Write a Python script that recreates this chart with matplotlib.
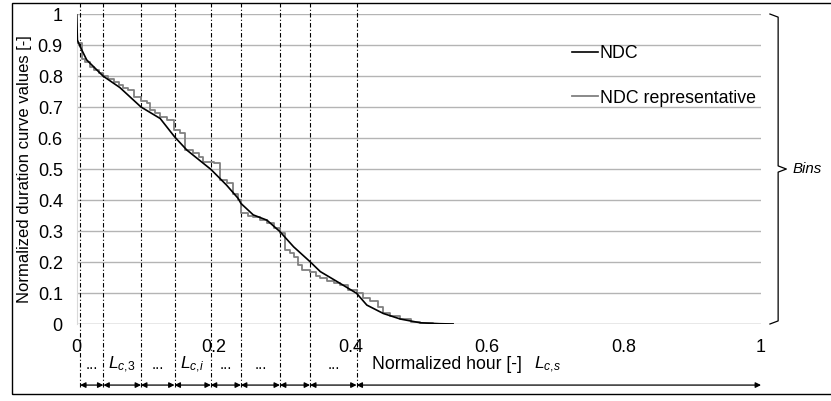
import numpy as np
import matplotlib
matplotlib.use('Agg')
import matplotlib.pyplot as plt
import matplotlib.patches as patches
from matplotlib.transforms import blended_transform_factory

plt.rcParams['font.family'] = ['Liberation Sans', 'DejaVu Sans']
plt.rcParams['mathtext.fontset'] = 'custom'
plt.rcParams['mathtext.it'] = 'Liberation Sans:italic'
plt.rcParams['mathtext.rm'] = 'Liberation Sans'

# NDC (black curve)
ndc_x = [0, 0.001, 0.005, 0.0146, 0.0385, 0.063, 0.094, 0.122, 0.143, 0.161, 0.196,
         0.219, 0.236, 0.24, 0.258, 0.278, 0.297, 0.317, 0.341, 0.356, 0.385, 0.409,
         0.424, 0.448, 0.473, 0.502, 0.53, 0.55]
ndc_y = [1.0, 0.916, 0.895, 0.852, 0.80, 0.763, 0.70, 0.663, 0.604, 0.561, 0.499,
         0.448, 0.405, 0.389, 0.352, 0.335, 0.298, 0.249, 0.201, 0.169, 0.131, 0.099,
         0.061, 0.034, 0.016, 0.004, 0.001, 0.0]

# NDC representative (grey, stepped)
rep_x = [0, 0.008, 0.012, 0.019, 0.025, 0.032, 0.039, 0.046, 0.054, 0.062,
         0.068, 0.075, 0.083, 0.094, 0.102, 0.107, 0.114, 0.122, 0.132, 0.142,
         0.151, 0.158, 0.170, 0.178, 0.185, 0.200, 0.210, 0.219, 0.229, 0.236,
         0.24, 0.25, 0.258, 0.268, 0.278, 0.288, 0.297, 0.305, 0.311, 0.317,
         0.323, 0.329, 0.341, 0.349, 0.356, 0.366, 0.376, 0.385, 0.397, 0.409,
         0.418, 0.429, 0.441, 0.448, 0.458, 0.473, 0.488, 0.502, 0.52, 0.55]
rep_y = [0.907, 0.856, 0.846, 0.83, 0.82, 0.81, 0.80, 0.79, 0.78, 0.77,
         0.76, 0.755, 0.733, 0.72, 0.712, 0.69, 0.68, 0.667, 0.658, 0.626,
         0.615, 0.561, 0.551, 0.54, 0.524, 0.518, 0.465, 0.454, 0.421, 0.40,
         0.357, 0.35, 0.346, 0.335, 0.325, 0.31, 0.293, 0.239, 0.23, 0.217,
         0.19, 0.174, 0.169, 0.155, 0.147, 0.14, 0.133, 0.126, 0.11, 0.099,
         0.085, 0.075, 0.056, 0.034, 0.025, 0.016, 0.008, 0.004, 0.001, 0.0]

# bin borders and labels
bin_edges = [0.005, 0.039, 0.094, 0.143, 0.196, 0.24, 0.297, 0.341, 0.409, 1.0]
bin_labels = ['...', r'$L_{\mathit{c,\!3}}$', '...', r'$L_{\mathit{c,\!i}}$', '...', '...', '', '...', '']

x_ticks = [0, 0.2, 0.4, 0.6, 0.8, 1]
x_ticklabels = ['0', '0.2', '0.4', '0.6', '0.8', '1']
y_ticks = [0, 0.1, 0.2, 0.3, 0.4, 0.5, 0.6, 0.7, 0.8, 0.9, 1]
y_ticklabels = ['0', '0.1', '0.2', '0.3', '0.4', '0.5', '0.6', '0.7', '0.8', '0.9', '1']

fig = plt.figure(figsize=(8.31, 4.01), dpi=100)
ax = fig.add_axes([0.0923, 0.192, 0.8235, 0.773])

# grid
for yv in y_ticks:
    gc = '#8c8c8c' if yv == 0 else '#b4b4b4'
    ax.plot([0, 0.999], [yv, yv], color=gc, lw=1.0, zorder=1)

ax.plot(rep_x, rep_y, color='#808080', lw=1.3, drawstyle='steps-post', zorder=3,
        label='NDC representative')
ax.plot(ndc_x, ndc_y, color='black', lw=1.2, zorder=4, label='NDC')

ax.set_xlim(0, 1)
ax.set_ylim(0, 1)
ax.set_xticks(x_ticks)
ax.set_xticklabels(x_ticklabels)
ax.set_yticks(y_ticks)
ax.set_yticklabels(y_ticklabels)
ax.tick_params(length=0, labelsize=13)
ax.tick_params(axis='x', pad=11)
ax.tick_params(axis='y', pad=10)
for s in ['top', 'right', 'bottom']:
    ax.spines[s].set_visible(False)
ax.spines['left'].set_color('#d9d9d9')

ax.set_ylabel('Normalized duration curve values [-]', fontsize=12)
ax.yaxis.set_label_coords(-0.066, 0.5)

# legend
handles, labels = ax.get_legend_handles_labels()
ax.legend(handles[::-1], labels[::-1], loc='upper left', bbox_to_anchor=(0.724, 0.90),
          frameon=False, fontsize=12.8, handlelength=1.45, handletextpad=0.1,
          labelspacing=1.55, borderpad=0, borderaxespad=0)

trans = blended_transform_factory(ax.transData, ax.transAxes)

# dashed bin borders
for xv in bin_edges[:-1]:
    ax.plot([xv, xv], [-0.203, 1.035], transform=trans, color='black', lw=0.8,
            linestyle=(0, (4, 2, 1, 2)), clip_on=False, zorder=2)

# arrows between bins
for i in range(len(bin_edges) - 1):
    ax.annotate('', xy=(bin_edges[i + 1], -0.197), xytext=(bin_edges[i], -0.197),
                xycoords=trans, textcoords=trans,
                arrowprops=dict(arrowstyle='<|-|>', color='black', lw=0.9,
                                mutation_scale=8, shrinkA=0, shrinkB=0))
    lab = bin_labels[i]
    if lab:
        mid = (bin_edges[i] + bin_edges[i + 1]) / 2
        fs = 11 if lab == '...' else 12.5
        ax.text(mid, -0.132, lab, transform=trans, ha='center', va='center', fontsize=fs)

ax.text(0.432, -0.132, 'Normalized hour [-]', transform=trans, ha='left', va='center',
        fontsize=12.7)
ax.text(0.688, -0.132, r'$L_{\mathit{c,\!s}}$', transform=trans, ha='center', va='center',
        fontsize=12.5)

# brace for bins
bx = [1.013, 1.025, 1.025, 1.037, 1.025, 1.025, 1.013]
by = [1.0, 0.99, 0.51, 0.5, 0.49, 0.01, 0.0]
ax.plot(bx, by, color='black', lw=0.9, clip_on=False)
ax.text(1.046, 0.5, 'Bins', fontsize=10.8, style='italic', ha='left', va='center',
        clip_on=False)

# figure border
fig.patches.append(patches.Rectangle((0.0144, 0.0175), 1.0, 0.975, transform=fig.transFigure,
                                     fill=False, edgecolor='black', lw=1.0))

fig.savefig('out.png', dpi=100)
